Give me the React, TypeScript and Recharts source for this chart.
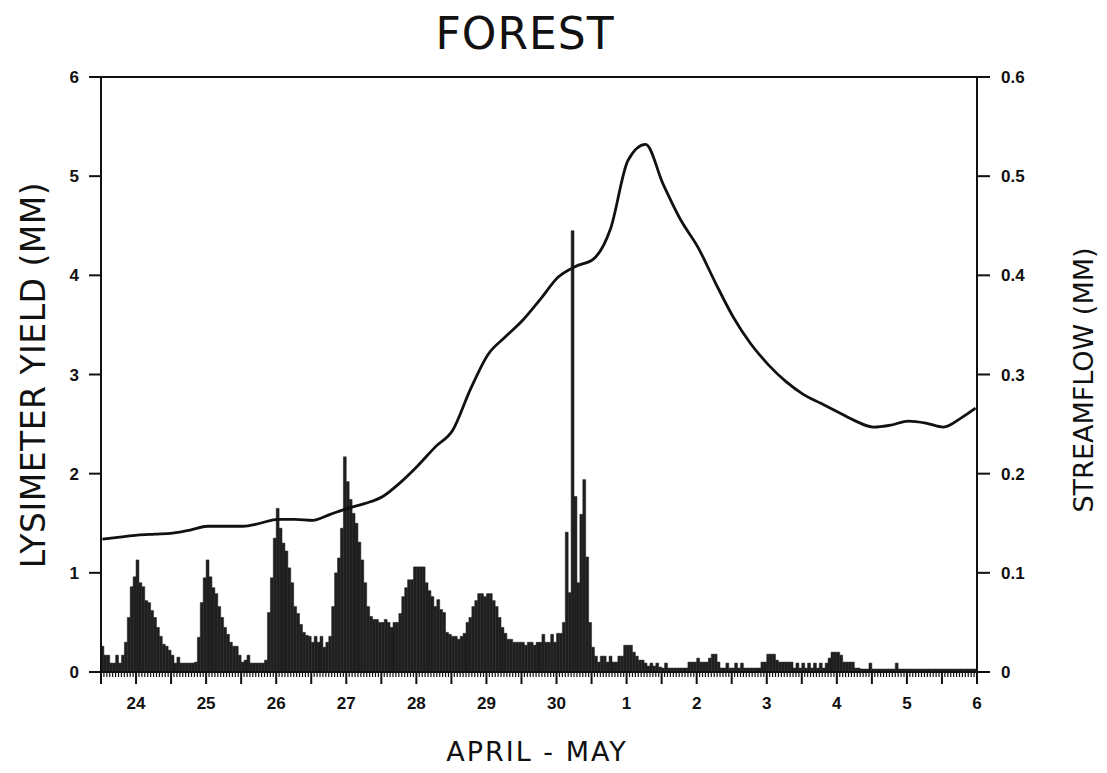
import React from "react";
import { Bar, ComposedChart, Line, ReferenceLine, XAxis, YAxis } from "recharts";

// day labels under the x axis (April 24 .. May 6)
const dayLabels = ["24", "25", "26", "27", "28", "29", "30", "1", "2", "3", "4", "5", "6"];
const yieldTicks = [0, 1, 2, 3, 4, 5, 6];
const flowTicks = [0, 0.1, 0.2, 0.3, 0.4, 0.5, 0.6];

// hourly lysimeter yield (mm); each block runs from 12 h before to 12 h after its day tick
const lysApr24 = [0.26, 0.17, 0.17, 0.09, 0.09, 0.17, 0.09, 0.17, 0.3, 0.55, 0.86, 0.96, 1.13, 0.9, 0.86, 0.72, 0.7, 0.62, 0.55, 0.45, 0.36, 0.28, 0.26, 0.22];
const lysApr25 = [0.17, 0.09, 0.15, 0.09, 0.09, 0.09, 0.09, 0.09, 0.1, 0.35, 0.7, 0.95, 1.13, 0.96, 0.85, 0.79, 0.66, 0.55, 0.45, 0.38, 0.3, 0.26, 0.26, 0.17];
const lysApr26 = [0.1, 0.12, 0.17, 0.09, 0.09, 0.09, 0.09, 0.09, 0.12, 0.6, 0.95, 1.35, 1.65, 1.45, 1.3, 1.22, 1.05, 0.9, 0.66, 0.59, 0.48, 0.4, 0.37, 0.36];
const lysApr27 = [0.3, 0.36, 0.3, 0.36, 0.25, 0.3, 0.36, 0.66, 1.0, 1.15, 1.45, 2.17, 1.92, 1.74, 1.6, 1.5, 1.31, 1.13, 0.9, 0.66, 0.56, 0.53, 0.53, 0.5];
const lysApr28 = [0.5, 0.53, 0.5, 0.45, 0.5, 0.5, 0.59, 0.76, 0.85, 0.93, 0.93, 1.06, 1.06, 1.06, 1.06, 0.9, 0.82, 0.76, 0.66, 0.73, 0.63, 0.6, 0.4, 0.38];
const lysApr29 = [0.36, 0.36, 0.33, 0.36, 0.39, 0.5, 0.55, 0.66, 0.72, 0.79, 0.79, 0.76, 0.79, 0.79, 0.72, 0.66, 0.55, 0.45, 0.39, 0.33, 0.33, 0.3, 0.3, 0.3];
const lysApr30 = [0.3, 0.27, 0.3, 0.3, 0.27, 0.3, 0.3, 0.38, 0.3, 0.3, 0.38, 0.3, 0.39, 0.39, 0.5, 1.41, 0.8, 4.45, 1.77, 0.9, 1.59, 1.94, 1.16, 0.5];
const lysMay1 = [0.25, 0.16, 0.1, 0.16, 0.16, 0.1, 0.16, 0.1, 0.1, 0.16, 0.16, 0.27, 0.27, 0.27, 0.2, 0.16, 0.12, 0.12, 0.09, 0.06, 0.09, 0.06, 0.09, 0.05];
const lysMay2 = [0.04, 0.09, 0.04, 0.04, 0.04, 0.04, 0.04, 0.04, 0.04, 0.1, 0.1, 0.1, 0.14, 0.1, 0.1, 0.1, 0.14, 0.18, 0.18, 0.1, 0.04, 0.04, 0.09, 0.04];
const lysMay3 = [0.04, 0.09, 0.04, 0.09, 0.04, 0.04, 0.04, 0.04, 0.04, 0.04, 0.1, 0.1, 0.18, 0.18, 0.18, 0.12, 0.1, 0.1, 0.1, 0.1, 0.1, 0.04, 0.09, 0.04];
const lysMay4 = [0.09, 0.04, 0.09, 0.04, 0.09, 0.04, 0.09, 0.04, 0.09, 0.14, 0.2, 0.2, 0.2, 0.17, 0.1, 0.1, 0.1, 0.1, 0.04, 0.04, 0.03, 0.03, 0.03, 0.09];
const lysMay5 = [0.03, 0.03, 0.03, 0.03, 0.03, 0.03, 0.03, 0.03, 0.09, 0.03, 0.03, 0.03, 0.03, 0.03, 0.03, 0.03, 0.03, 0.03, 0.03, 0.03, 0.03, 0.03, 0.03, 0.03];
const lysMay6 = [0.03, 0.03, 0.03, 0.03, 0.03, 0.03, 0.03, 0.03, 0.03, 0.03, 0.03, 0.03];

// streamflow (mm), one reading every 6 h from the left edge to May 6
const streamflow = [
  0.134, 0.136, 0.138, 0.139, 0.14, 0.143, 0.147, 0.147, 0.147, 0.15,
  0.154, 0.154, 0.153, 0.159, 0.165, 0.17, 0.177, 0.191, 0.208, 0.227,
  0.244, 0.285, 0.32, 0.338, 0.355, 0.376, 0.398, 0.409, 0.416, 0.447,
  0.516, 0.532, 0.492, 0.456, 0.428, 0.392, 0.358, 0.331, 0.31, 0.293,
  0.28, 0.271, 0.262, 0.253, 0.247, 0.249, 0.253, 0.251, 0.247, 0.256,
  0.266,
];

const hourly = [
  ...lysApr24, ...lysApr25, ...lysApr26, ...lysApr27, ...lysApr28, ...lysApr29,
  ...lysApr30, ...lysMay1, ...lysMay2, ...lysMay3, ...lysMay4, ...lysMay5, ...lysMay6,
];

const data: { t: number; lys: number; flow?: number }[] = hourly.map((v, i) => ({
  t: -0.5 + (i + 0.5) / 24,
  lys: v,
}));
streamflow.forEach((f, k) => {
  data[Math.min(k * 6, data.length - 1)].flow = f;
});

const hourTicks = Array.from({ length: 301 }, (_, h) => -0.5 + h / 24);

const tickFont = { fontFamily: "Liberation Sans, Arial, sans-serif", fontWeight: 700, fontSize: 17, fill: "#111" };
const handFont = "DejaVu Sans, sans-serif";

const DayTick = (props: any) => {
  const { x, y, payload } = props;
  const v = payload.value;
  const half = Math.abs(v * 2 - Math.round(v * 2)) < 1e-6;
  const whole = Math.abs(v - Math.round(v)) < 1e-6;
  return (
    <g>
      <line x1={x} x2={x} y1={y} y2={y + (half ? 12 : 5)} stroke="#111" strokeWidth={half ? 2 : 1.2} />
      {whole && (
        <text x={x} y={y + 37} textAnchor="middle" {...tickFont}>
          {dayLabels[Math.round(v)]}
        </text>
      )}
    </g>
  );
};

const label = (left: number, top: number, size: number, rotate: boolean, spacing = 0): React.CSSProperties => ({
  position: "absolute",
  left,
  top,
  transform: `translate(-50%, -50%)${rotate ? " rotate(-90deg)" : ""}`,
  fontFamily: handFont,
  fontSize: size,
  letterSpacing: spacing,
  lineHeight: "normal",
  whiteSpace: "nowrap",
  color: "#111",
});

export default function App() {
  return (
    <div style={{ position: "relative", width: 1090, height: 755, background: "#fff" }}>
      <ComposedChart width={1090} height={755} data={data} margin={{ top: 69, right: 61, bottom: 51, left: 0 }}>
        <XAxis
          type="number"
          dataKey="t"
          domain={[-0.5, 12]}
          ticks={hourTicks}
          interval={0}
          allowDataOverflow
          tickLine={false}
          tickSize={0}
          tickMargin={0}
          height={40}
          axisLine={{ stroke: "#111", strokeWidth: 2 }}
          tick={(p: any) => <DayTick {...p} />}
        />
        <YAxis
          yAxisId="left"
          domain={[0, 6]}
          ticks={yieldTicks}
          width={93}
          tickSize={12}
          tickMargin={10}
          axisLine={{ stroke: "#111", strokeWidth: 2 }}
          tickLine={{ stroke: "#111", strokeWidth: 2 }}
          tick={tickFont}
        />
        <YAxis
          yAxisId="right"
          orientation="right"
          domain={[0, 0.6]}
          ticks={flowTicks}
          width={60}
          tickSize={13}
          tickMargin={11}
          axisLine={{ stroke: "#111", strokeWidth: 2 }}
          tickLine={{ stroke: "#111", strokeWidth: 2 }}
          tick={tickFont}
        />
        <ReferenceLine yAxisId="left" y={6} stroke="#111" strokeWidth={2} />
        <Bar
          yAxisId="left"
          dataKey="lys"
          fill="#1f1f1f"
          stroke="#1f1f1f"
          strokeWidth={0.5}
          barSize={2.9}
          isAnimationActive={false}
        />
        <Line
          yAxisId="right"
          dataKey="flow"
          type="monotone"
          stroke="#111"
          strokeWidth={2.8}
          dot={false}
          connectNulls
          isAnimationActive={false}
        />
      </ComposedChart>
      <div style={label(517, 25, 44, false, 1)}>FOREST</div>
      <div style={label(25, 367, 33, true, 0.5)}>LYSIMETER YIELD (MM)</div>
      <div style={label(1075, 372, 27, true, 0)}>STREAMFLOW (MM)</div>
      <div style={label(529, 743, 27, false, 2)}>APRIL - MAY</div>
    </div>
  );
}
